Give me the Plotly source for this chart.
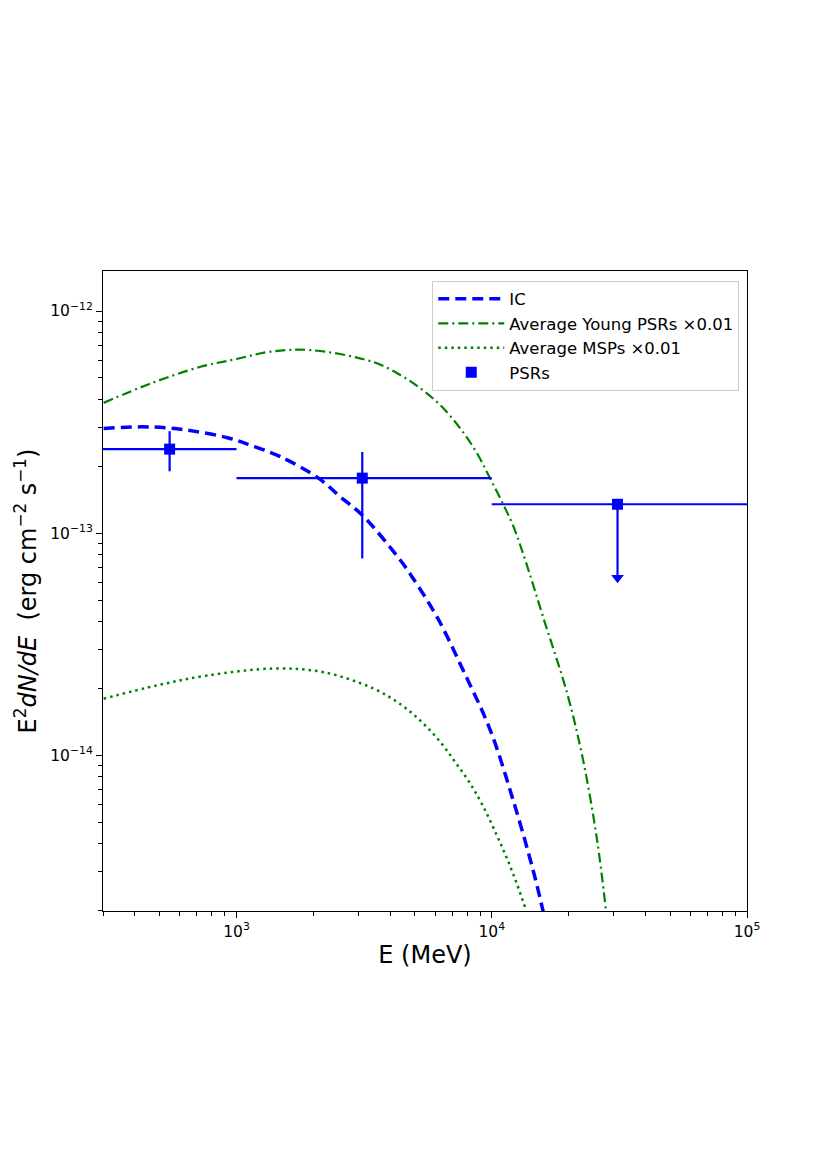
import plotly.graph_objects as go

# ---------------------------------------------------------------------------
# data
# ---------------------------------------------------------------------------
ic_e = [301.6, 421, 537, 679, 922, 1134, 1486, 2094, 2553, 3113, 4385, 4884, 6118, 7735,
        9865, 12140, 14540, 15910]
ic_f = [2.96e-13, 3.01e-13, 2.98e-13, 2.88e-13, 2.69e-13, 2.49e-13, 2.21e-13, 1.77e-13,
        1.457e-13, 1.205e-13, 7.56e-14, 6.34e-14, 4.18e-14, 2.41e-14, 1.30e-14, 6.27e-15,
        3.03e-15, 1.98e-15]

young_e = [301.6, 461, 723, 1000, 1359, 1948, 3438, 4385, 5251, 6286, 7530, 8753, 9865,
           11120, 12170, 13730, 15910, 19750, 22810, 25880, 28060]
young_f = [3.86e-13, 4.72e-13, 5.61e-13, 6.08e-13, 6.56e-13, 6.67e-13, 5.89e-13, 5.15e-13,
           4.49e-13, 3.77e-13, 2.96e-13, 2.29e-13, 1.76e-13, 1.34e-13, 1.07e-13, 7.18e-14,
           4.18e-14, 1.90e-14, 9.50e-15, 4.14e-15, 1.98e-15]

msp_e = [301.6, 491, 770, 1396, 2190, 3438, 4452, 5331, 6286, 7196, 8241, 9289, 10480,
         11470, 12550, 13610]
msp_f = [1.80e-14, 2.07e-14, 2.29e-14, 2.46e-14, 2.37e-14, 2.0e-14, 1.68e-14, 1.41e-14,
         1.15e-14, 9.33e-15, 7.46e-15, 5.85e-15, 4.36e-15, 3.44e-15, 2.64e-15, 2.02e-15]

# PSR points: bin centre, bin edges, flux, errors
psr_e = [547, 3110]
psr_lo = [300, 1000]
psr_hi = [1000, 10000]
psr_f = [2.39e-13, 1.77e-13]
psr_up = [2.88e-13, 2.32e-13]
psr_dn = [1.9e-13, 7.7e-14]

ul_e = [31100]
ul_lo = [10000]
ul_hi = [100000]
ul_f = [1.35e-13]
ul_tip = [6.3e-14]

x_major = [1e3, 1e4, 1e5]
x_major_text = ["10<sup>3</sup>", "10<sup>4</sup>", "10<sup>5</sup>"]
y_major = [1e-14, 1e-13, 1e-12]
y_major_text = ["10<sup>\u221214</sup>", "10<sup>\u221213</sup>", "10<sup>\u221212</sup>"]

x_minor = [m * 10 ** d for d in range(2, 5) for m in range(2, 10)]
y_minor = [m * 10.0 ** d for d in range(-15, -11) for m in range(2, 10)]

BLUE = "#0000ff"
GREEN = "#008000"

fig = go.Figure()

fig.add_trace(go.Scatter(x=ic_e, y=ic_f, mode="lines", name="IC",
                         line=dict(color=BLUE, width=3.5, dash="11px,6px",
                                   shape="spline", smoothing=1)))
fig.add_trace(go.Scatter(x=young_e, y=young_f, mode="lines",
                         name="Average Young PSRs \u00d70.01",
                         line=dict(color=GREEN, width=2.2, dash="10px,4px,2px,4px",
                                   shape="spline", smoothing=1)))
fig.add_trace(go.Scatter(x=msp_e, y=msp_f, mode="lines", name="Average MSPs \u00d70.01",
                         line=dict(color=GREEN, width=2.5, dash="2.5px,4px",
                                   shape="spline", smoothing=1)))

fig.add_trace(go.Scatter(
    x=psr_e, y=psr_f, mode="markers", name="PSRs",
    marker=dict(symbol="square", size=11, color=BLUE),
    error_x=dict(type="data", symmetric=False,
                 array=[h - e for h, e in zip(psr_hi, psr_e)],
                 arrayminus=[e - l for e, l in zip(psr_e, psr_lo)],
                 color=BLUE, thickness=2.2, width=0),
    error_y=dict(type="data", symmetric=False,
                 array=[u - f for u, f in zip(psr_up, psr_f)],
                 arrayminus=[f - d for f, d in zip(psr_f, psr_dn)],
                 color=BLUE, thickness=2.2, width=0),
))

# upper limit bin
fig.add_trace(go.Scatter(
    x=ul_e, y=ul_f, mode="markers", showlegend=False,
    marker=dict(symbol="square", size=11, color=BLUE),
    error_x=dict(type="data", symmetric=False,
                 array=[h - e for h, e in zip(ul_hi, ul_e)],
                 arrayminus=[e - l for e, l in zip(ul_e, ul_lo)],
                 color=BLUE, thickness=2.2, width=0),
))
fig.add_trace(go.Scatter(
    x=ul_e + ul_e, y=ul_f + ul_tip, mode="lines", showlegend=False,
    line=dict(color=BLUE, width=2.2),
))
fig.add_trace(go.Scatter(
    x=ul_e, y=ul_tip, mode="markers", showlegend=False,
    marker=dict(symbol="triangle-down", size=11, color=BLUE),
))

fig.update_layout(
    width=830, height=1175,
    paper_bgcolor="white", plot_bgcolor="white",
    margin=dict(l=95, r=91, t=263, b=272),
    font=dict(family="DejaVu Sans", size=15, color="black"),
    showlegend=True,
    legend=dict(x=0.988, y=0.985, xanchor="right", yanchor="top",
                bordercolor="#cccccc", borderwidth=1, bgcolor="rgba(255,255,255,0.8)",
                font=dict(size=16.5), tracegroupgap=2, itemwidth=66),
)

fig.update_xaxes(
    type="log", range=[2.477, 5.0],
    tickvals=x_major, ticktext=x_major_text, tickfont=dict(size=15.5),
    ticks="outside", ticklen=6, tickwidth=1.2, tickcolor="black",
    minor=dict(tickvals=x_minor, ticks="outside", ticklen=3.5, tickwidth=1, tickcolor="black"),
    showline=True, linecolor="black", linewidth=1.2, mirror=True,
    showgrid=False, zeroline=False,
    title=dict(text="E (MeV)", font=dict(size=24), standoff=6),
)
fig.update_yaxes(
    type="log", range=[-14.7, -11.82],
    tickvals=y_major, ticktext=y_major_text, tickfont=dict(size=15.5),
    ticks="outside", ticklen=6, tickwidth=1.2, tickcolor="black",
    minor=dict(tickvals=y_minor, ticks="outside", ticklen=3.5, tickwidth=1, tickcolor="black"),
    showline=True, linecolor="black", linewidth=1.2, mirror=True,
    showgrid=False, zeroline=False,
    title=dict(text="E<sup>2</sup><i>dN/dE</i>  (erg cm<sup>\u22122</sup> s<sup>\u22121</sup>)",
               font=dict(size=24), standoff=6),
)

fig.write_html("out.html")
